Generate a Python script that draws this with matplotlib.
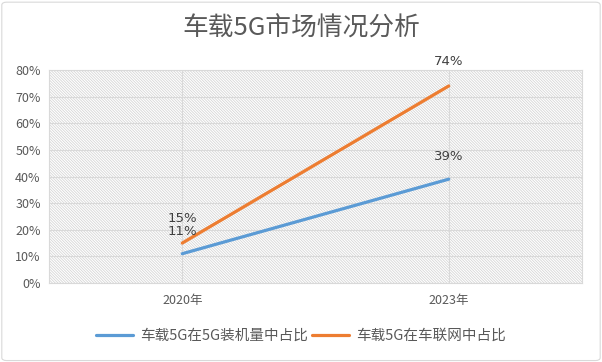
import matplotlib.pyplot as plt
from matplotlib.patches import FancyBboxPatch
from matplotlib.ticker import PercentFormatter

plt.rcParams['font.family'] = ['Noto Sans CJK SC', 'DejaVu Sans']
plt.rcParams['hatch.linewidth'] = 0.6

# --- data ---
years = ['2020年', '2023年']
share_install = [11, 39]     # 车载5G在5G装机量中占比
share_iov = [15, 74]         # 车载5G在车联网中占比
series_names = ['车载5G在5G装机量中占比', '车载5G在车联网中占比']
title = '车载5G市场情况分析'

blue = '#5B9BD5'
orange = '#ED7D31'
grey_text = '#595959'

fig = plt.figure(figsize=(6.02, 3.62), dpi=100)
ax = fig.add_axes([49/602, 1 - 283/362, 533/602, 213/362])

# hatched plot background
ax.set_facecolor('white')
ax.patch.set_hatch('\\' * 12)
ax.patch.set_edgecolor('#d6d6d6')
ax.patch.set_linewidth(0)

x = range(len(years))
ax.plot(x, share_install, color=blue, lw=2.3, label=series_names[0], solid_capstyle='round')
ax.plot(x, share_iov, color=orange, lw=2.3, label=series_names[1], solid_capstyle='round')

# data labels (orange sits a touch higher so the 2020 pair doesn't collide)
for xi, v in zip(x, share_install):
    ax.annotate(f'{v}%', (xi, v), xytext=(0, 16), textcoords='offset points',
                ha='center', va='center', fontsize=9.5, color='#404040',
                family='DejaVu Sans')
for xi, v in zip(x, share_iov):
    ax.annotate(f'{v}%', (xi, v), xytext=(0, 17.5), textcoords='offset points',
                ha='center', va='center', fontsize=9.5, color='#404040',
                family='DejaVu Sans')

ax.set_xlim(-0.5, 1.5)
ax.set_ylim(0, 80)
ax.set_yticks(range(0, 81, 10))
ax.yaxis.set_major_formatter(PercentFormatter(decimals=0))
ax.set_xticks(list(x))
ax.set_xticklabels(years)
ax.tick_params(length=0, labelsize=9, colors=grey_text, pad=6)
ax.tick_params(axis='x', pad=8)
ax.grid(True, color='#d9d9d9', lw=0.8)
ax.set_axisbelow(True)
for side in ['top', 'right', 'left', 'bottom']:
    ax.spines[side].set_color('#d9d9d9')
    ax.spines[side].set_linewidth(0.8)

fig.text(0.5, 1 - 29/362, title, ha='center', va='center', fontsize=18.5,
         color=grey_text)

leg = fig.legend(loc='center', bbox_to_anchor=(0.5, 1 - 336/362), ncol=2, frameon=False,
                 fontsize=10.5, handlelength=2.5, columnspacing=0.3, handletextpad=0.5)
for t in leg.get_texts():
    t.set_color(grey_text)

# outer chart border
fig.patches.append(FancyBboxPatch((0.003, 0.004), 0.994, 0.99, boxstyle='round,pad=0,rounding_size=0.008',
                                  transform=fig.transFigure, fill=False, ec='#d9d9d9', lw=0.8))

fig.savefig('out.png', dpi=100)
